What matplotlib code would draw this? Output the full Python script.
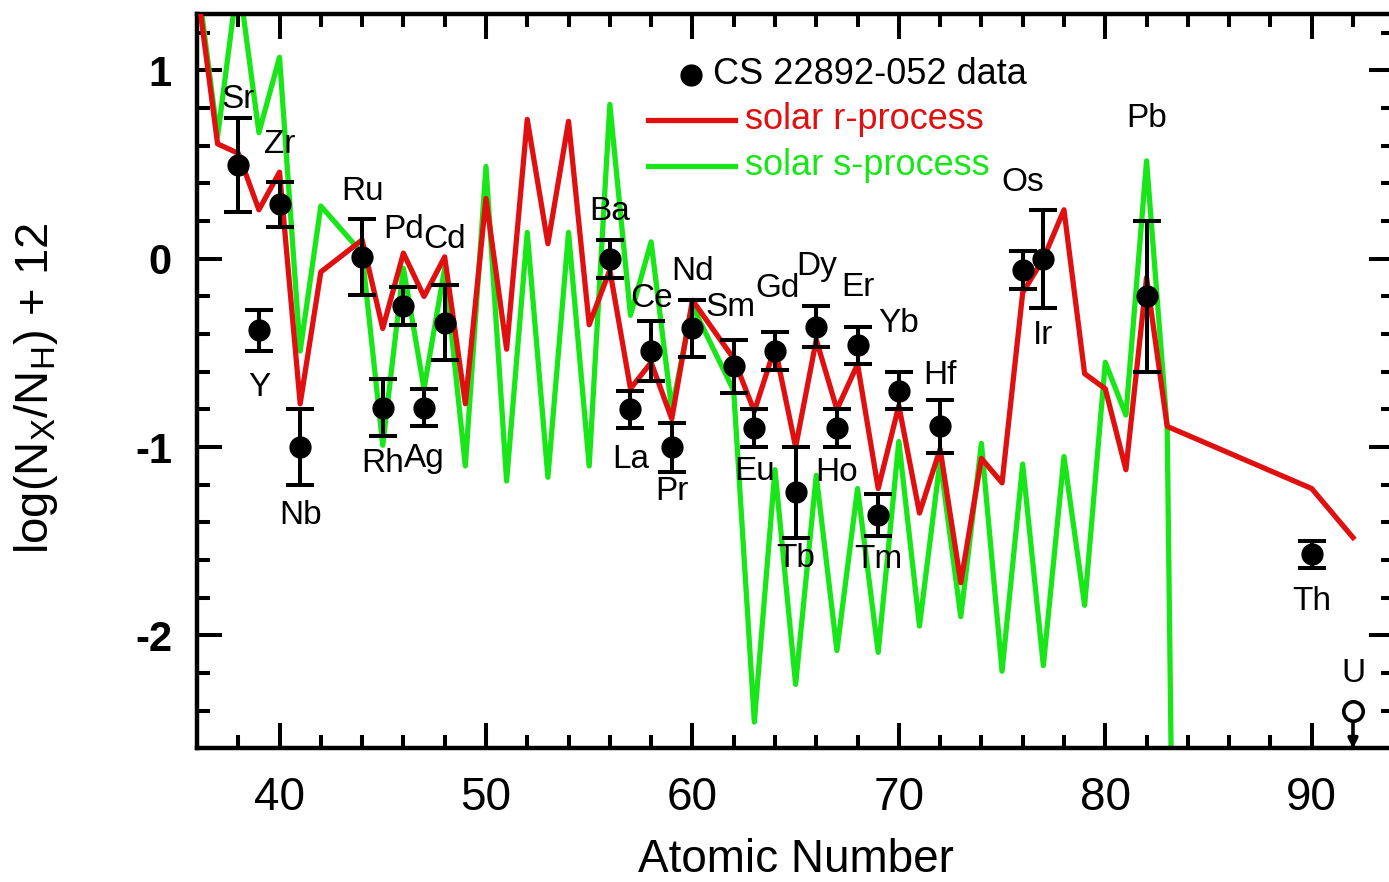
import matplotlib
matplotlib.use("Agg")
import matplotlib.pyplot as plt

plt.rcParams['font.family'] = ['Liberation Sans', 'DejaVu Sans']
plt.rcParams['mathtext.fontset'] = 'custom'
plt.rcParams['mathtext.rm'] = 'Liberation Sans'
plt.rcParams['axes.unicode_minus'] = False

# CS 22892-052 measured abundances
obs_el = ['Sr', 'Y', 'Zr', 'Nb', 'Ru', 'Rh', 'Pd', 'Ag', 'Cd', 'Ba', 'La', 'Ce', 'Pr', 'Nd',
          'Sm', 'Eu', 'Gd', 'Tb', 'Dy', 'Ho', 'Er', 'Tm', 'Yb', 'Hf', 'Os', 'Ir', 'Pb', 'Th']
obs_z = [38, 39, 40, 41, 44, 45, 46, 47, 48, 56, 57, 58, 59, 60,
         62, 63, 64, 65, 66, 67, 68, 69, 70, 72, 76, 77, 82, 90]
obs_val = [0.50, -0.38, 0.29, -1.00, 0.01, -0.79, -0.25, -0.79, -0.34, 0.00, -0.80, -0.49, -1.00, -0.37,
           -0.57, -0.90, -0.49, -1.24, -0.36, -0.90, -0.46, -1.36, -0.70, -0.89, -0.06, 0.00, -0.20, -1.57]
obs_err = [0.25, 0.11, 0.12, 0.20, 0.20, 0.15, 0.10, 0.10, 0.20, 0.10, 0.10, 0.16, 0.13, 0.15,
           0.14, 0.10, 0.10, 0.24, 0.11, 0.10, 0.10, 0.11, 0.10, 0.14, 0.10, 0.26, 0.40, 0.07]

# uranium upper limit
u_el = 'U'
u_z = 92
u_lim = -2.40

# scaled solar r-process
r_z = [36, 37, 38, 39, 40, 41, 42, 44, 45, 46, 47, 48, 49, 50, 51, 52, 53, 54, 55, 56, 57, 58, 59, 60,
       62, 63, 64, 65, 66, 67, 68, 69, 70, 71, 72, 73, 74, 75, 76, 77, 78, 79, 80, 81, 82, 83, 90, 92]
r_val = [1.45, 0.61, 0.56, 0.26, 0.46, -0.77, -0.07, 0.10, -0.37, 0.03, -0.20, 0.01, -0.77, 0.32,
         -0.48, 0.74, 0.08, 0.73, -0.35, -0.06, -0.69, -0.55, -0.85, -0.22,
         -0.53, -0.81, -0.47, -1.00, -0.43, -0.80, -0.56, -1.22, -0.78, -1.35, -1.01, -1.72, -1.06,
         -1.19, -0.18, 0.00, 0.26, -0.61, -0.69, -1.12, -0.10, -0.89, -1.22, -1.48]

# scaled solar s-process
s_z = [36, 37, 38, 39, 40, 41, 42, 44, 45, 46, 47, 48, 49, 50, 51, 52, 53, 54, 55, 56, 57, 58, 59, 60,
       62, 63, 64, 65, 66, 67, 68, 69, 70, 71, 72, 73, 74, 75, 76, 77, 78, 79, 80, 81, 82, 83, 84]
s_val = [1.50, 0.65, 1.50, 0.67, 1.07, -0.49, 0.28, 0.03, -0.99, -0.05, -0.69, -0.05, -1.10, 0.49,
         -1.18, 0.14, -1.16, 0.14, -1.10, 0.82, -0.30, 0.09, -0.80, -0.25,
         -0.70, -2.46, -1.12, -2.26, -1.15, -2.08, -1.22, -2.09, -0.97, -1.95, -1.07, -1.90, -0.98,
         -2.19, -1.09, -2.16, -1.05, -1.84, -0.55, -0.83, 0.52, -0.90, -10.0]

# offsets of the element names (points): horizontal, vertical (+ above / - below)
label_dx = [0, 0, 0, 0, 0, 0, 0, 0, 0, 0, 0, 0, 0, 0,
            -2, 0, 2, 0, 0, 0, 0, 0, 0, 0, 0, 0, 0, 0]
label_dy = [47, -41, 43, -49, 47, -40, 55, -37, 60, 34, -36, 38, -32, 41,
            42, -31, 45, -48, 43, -32, 42, -32, 48, 37, 63, -55, 128, -34]
u_label_dy = 27

RED = '#e01010'
GREEN = '#19e619'

fig = plt.figure(figsize=(13.89, 8.82), dpi=100)
ax = fig.add_axes([0.1418, 0.1514, 0.862, 0.8328])

ax.plot(s_z, s_val, color=GREEN, lw=3.8, zorder=2)
ax.plot(r_z, r_val, color=RED, lw=3.8, zorder=3)

ax.errorbar(obs_z, obs_val, yerr=obs_err, fmt='o', color='k', ms=15,
            elinewidth=2.9, capsize=10, capthick=2.9, zorder=5)

ax.plot(u_z, u_lim, 'o', mfc='white', mec='k', mew=2.6, ms=14, zorder=6)
ax.annotate('', xy=(u_z, -2.6), xytext=(u_z, u_lim),
            arrowprops=dict(arrowstyle='-|>', color='k', lw=2.6, shrinkA=9, shrinkB=0,
                            mutation_scale=14), zorder=5)

for el, z, v, dx, dy in zip(obs_el, obs_z, obs_val, label_dx, label_dy):
    ax.annotate(el, (z, v), xytext=(dx, dy), textcoords='offset points',
                ha='center', va='center', fontsize=24, zorder=7)
ax.annotate(u_el, (u_z, u_lim), xytext=(0, u_label_dy), textcoords='offset points',
            ha='center', va='center', fontsize=24, zorder=7)

# legend
tr = ax.transAxes
ax.plot([0.4127], [0.917], 'o', color='k', ms=15, transform=tr)
ax.text(0.431, 0.917, 'CS 22892-052 data', transform=tr, va='center', fontsize=26)
ax.plot([0.377, 0.449], [0.8557, 0.8557], color=RED, lw=3.8, transform=tr)
ax.text(0.4578, 0.8557, 'solar r-process', transform=tr, va='center', fontsize=26, color=RED)
ax.plot([0.377, 0.449], [0.793, 0.793], color=GREEN, lw=3.8, transform=tr)
ax.text(0.4578, 0.793, 'solar s-process', transform=tr, va='center', fontsize=26, color=GREEN)

ax.set_xlim(36, 94)
ax.set_ylim(-2.6, 1.3)
ax.set_xticks([40, 50, 60, 70, 80, 90])
ax.set_xticks(range(38, 94, 2), minor=True)
ax.set_yticks([-2, -1, 0, 1])
ax.set_yticks([-2.4, -2.2, -1.8, -1.6, -1.4, -1.2, -0.8, -0.6, -0.4, -0.2,
               0.2, 0.4, 0.6, 0.8, 1.2], minor=True)
ax.set_yticklabels(['-2', '-1', '0', '1'], fontweight='bold')

ax.tick_params(which='both', direction='in', top=True, right=True, width=2.9)
ax.tick_params(which='major', length=18)
ax.tick_params(which='minor', length=9.5)
ax.tick_params(axis='x', labelsize=33, pad=20)
ax.tick_params(axis='y', labelsize=30, pad=18)
for sp in ax.spines.values():
    sp.set_linewidth(3.2)

ax.set_xlabel('Atomic Number', fontsize=33)
ax.xaxis.set_label_coords(0.5, -0.122)
ax.xaxis.label.set_va('top')
ax.set_ylabel(r'log(N$_\mathregular{X}$/N$_\mathregular{H}$) + 12', fontsize=34)
ax.yaxis.set_label_coords(-0.1145, 0.49)

fig.savefig('out.png', dpi=100)
